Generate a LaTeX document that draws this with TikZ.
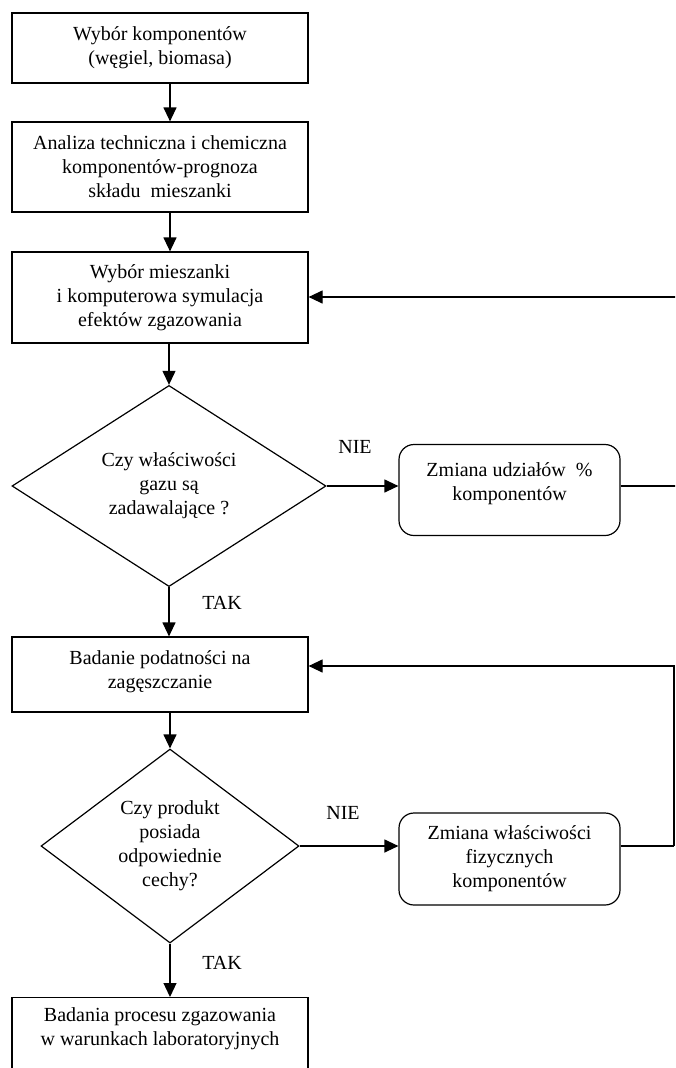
\documentclass[tikz,border=0pt]{standalone}
\usepackage{fontspec}
\setmainfont{Liberation Serif}
\usetikzlibrary{shapes.geometric,arrows.meta,calc}
\tikzset{
  base/.style={draw=black, line width=1.2pt, align=center, inner sep=2pt,
    font=\fontsize{20}{24}\selectfont},
  stepbox/.style={base, rectangle, minimum width=296pt},
  rbox/.style={base, rectangle, rounded corners=15pt, minimum width=221pt},
  decision/.style={base, diamond, inner sep=0pt},
  conn/.style={line width=1.2pt, -{Triangle[length=14pt,width=13pt]}},
  line/.style={line width=1.2pt},
  lbl/.style={font=\fontsize{20}{24}\selectfont, inner sep=0pt}
}
\begin{document}
\begin{tikzpicture}[x=1pt,y=-1pt]
\useasboundingbox (0,0) rectangle (675,1068);
\clip (0,0) rectangle (675,1068);
\coordinate (ax) at (170,0);
\node[stepbox, minimum height=70pt] (b1) at (160,48) {Wybór komponentów\\(węgiel, biomasa)};
\node[stepbox, minimum height=90pt] (b2) at (160,167) {Analiza techniczna i chemiczna\\komponentów-prognoza\\składu\ \ mieszanki};
\node[stepbox, minimum height=91pt] (b3) at (160,297.5) {Wybór mieszanki\\i komputerowa symulacja\\efektów zgazowania};
\node[decision, minimum width=314pt, minimum height=192pt] (d1) at (169,486) {Czy właściwości\\gazu są\\zadawalające ?};
\node[rbox, minimum height=91pt] (r1) at (509.5,490) {Zmiana udziałów\ \ \%\\komponentów\\[-8pt]};
\node[stepbox, minimum height=75pt] (b4) at (160,674.5) {Badanie podatności na\\zagęszczanie\\[-15pt]};
\node[decision, minimum width=258pt, minimum height=194pt] (d2) at (170,846) {Czy produkt\\posiada\\odpowiednie\\cechy?};
\node[rbox, minimum height=92pt] (r2) at (509.5,859) {Zmiana właściwości\\fizycznych\\komponentów};
\node[stepbox, minimum height=90pt, anchor=north] (b5) at (160,997) {Badania procesu zgazowania\\w warunkach laboratoryjnych\\[8pt]};
\node[lbl] (n1) at (355,447) {NIE};
\node[lbl] (t1) at (222,603) {TAK};
\node[lbl] (n2) at (343,813) {NIE};
\node[lbl] (t2) at (222,963) {TAK};
\coordinate (c1) at (678,297);
\coordinate (c2) at (674,666);
\draw[conn] (b1.south -| ax) -- (b2.north -| ax);
\draw[conn] (b2.south -| ax) -- (b3.north -| ax);
\draw[conn] (b3.south -| d1.north) -- (d1.north);
\draw[conn] (d1.east) -- (d1.east -| r1.west);
\draw[line] (r1.east |- d1.east) -- (d1.east -| c1);
\draw[conn] (d1.east -| c1) -- (c1) -- (c1 -| b3.east);
\draw[conn] (d1.south) -- (b4.north -| d1.south);
\draw[conn] (b4.south -| d2.north) -- (d2.north);
\draw[conn] (d2.east) -- (d2.east -| r2.west);
\draw[line] (r2.east |- d2.east) -- (d2.east -| c2);
\draw[conn] (d2.east -| c2) -- (c2) -- (c2 -| b4.east);
\draw[conn] (d2.south) -- (b5.north -| d2.south);
\end{tikzpicture}
\end{document}
